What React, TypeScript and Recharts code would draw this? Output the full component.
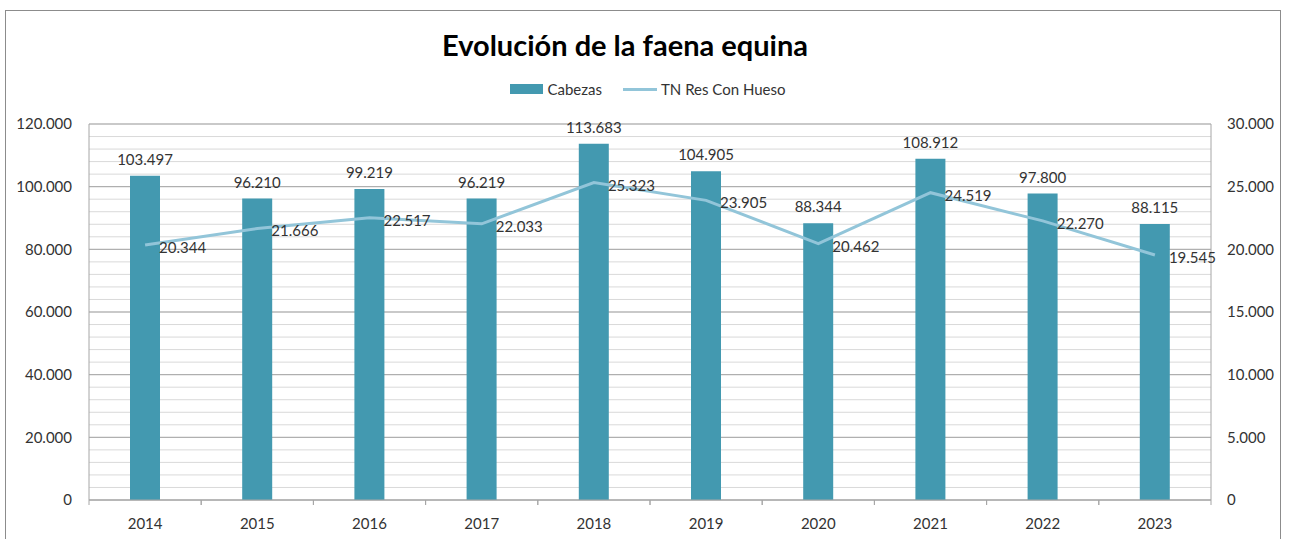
import React from "react";
import {
  ComposedChart,
  Bar,
  Line,
  XAxis,
  YAxis,
  CartesianGrid,
  LabelList,
} from "recharts";

const years = ["2014", "2015", "2016", "2017", "2018", "2019", "2020", "2021", "2022", "2023"];
const cabezas = [103497, 96210, 99219, 96219, 113683, 104905, 88344, 108912, 97800, 88115];
const tnResConHueso = [20344, 21666, 22517, 22033, 25323, 23905, 20462, 24519, 22270, 19545];
const leftTicks = [0, 20000, 40000, 60000, 80000, 100000, 120000];
const rightTicks = [0, 5000, 10000, 15000, 20000, 25000, 30000];

const data = years.map((year, i) => ({
  year,
  cabezas: cabezas[i],
  tn: tnResConHueso[i],
}));

const W = 1289;
const H = 539;
const BAR = "#4399B0";
const LINE = "#92C5D9";
const TEXT = "#333333";
const FONT = "Lato, 'Open Sans', sans-serif";
const HALF_BAND = 1122 / years.length / 2;

const fmt = (n: number) => String(n).replace(/\B(?=(\d{3})+(?!\d))/g, ".");

function YearTick({ x, y, payload }: any) {
  return (
    <g>
      <line x1={x - HALF_BAND} x2={x - HALF_BAND} y1={y} y2={y + 5} stroke="#A6A6A6" />
      <line x1={x + HALF_BAND} x2={x + HALF_BAND} y1={y} y2={y + 5} stroke="#A6A6A6" />
      <text x={x} y={y + 23} textAnchor="middle" dominantBaseline="central" fill={TEXT} fontSize={15} fontFamily={FONT}>
        {payload.value}
      </text>
    </g>
  );
}

function LineLabel({ x, y, value }: any) {
  return (
    <text x={x + 14} y={y + 2} textAnchor="start" dominantBaseline="central" fill={TEXT} fontSize={15} fontFamily={FONT}>
      {fmt(value)}
    </text>
  );
}

export default function App() {
  return (
    <div style={{ position: "absolute", left: 0, top: 0, width: W, height: H, background: "#fff", overflow: "hidden", fontFamily: FONT }}>
      <div style={{ position: "absolute", left: 5, top: 10, width: 1274, height: 560, border: "1px solid #8C8C8C" }} />
      <div style={{ position: "absolute", left: 0, top: 27, width: 1250, textAlign: "center", fontSize: 29, fontWeight: 700, color: "#000" }}>
        Evolución de la faena equina
      </div>
      <div style={{ position: "absolute", left: 0, top: 80, width: W + 7, display: "flex", justifyContent: "center", alignItems: "center", fontSize: 15, color: TEXT }}>
        <span style={{ display: "inline-block", width: 33, height: 10, background: BAR, marginRight: 4 }} />
        <span>Cabezas</span>
        <span style={{ display: "inline-block", width: 34, height: 3, background: LINE, marginLeft: 21, marginRight: 4 }} />
        <span>TN Res Con Hueso</span>
      </div>
      <div style={{ position: "absolute", left: 0, top: 0 }}>
        <ComposedChart width={W} height={H} data={data} margin={{ top: 124, right: 8, bottom: 9, left: 9 }}>
          <CartesianGrid
            vertical={false}
            stroke="#D9D9D9"
            horizontalCoordinatesGenerator={({ offset }: any) =>
              Array.from({ length: 31 }, (_, i) => offset.top + (offset.height * i) / 30)
            }
          />
          <CartesianGrid vertical={false} stroke="#A6A6A6" yAxisId="left" />
          <XAxis
            dataKey="year"
            height={30}
            axisLine={{ stroke: "#A6A6A6" }}
            tickLine={false}
            tickSize={0}
            tickMargin={0}
            tick={<YearTick />}
            interval={0}
          />
          <YAxis
            yAxisId="left"
            width={80}
            domain={[0, 120000]}
            ticks={leftTicks}
            tickFormatter={fmt}
            axisLine={{ stroke: "#A6A6A6" }}
            tickLine={false}
            tickMargin={11}
            tick={{ fill: TEXT, fontSize: 15, fontFamily: FONT }}
          />
          <YAxis
            yAxisId="right"
            orientation="right"
            width={70}
            domain={[0, 30000]}
            ticks={rightTicks}
            tickFormatter={fmt}
            axisLine={{ stroke: "#A6A6A6" }}
            tickLine={false}
            tickMargin={10}
            tick={{ fill: TEXT, fontSize: 15, fontFamily: FONT, textAnchor: "start" }}
          />
          <Bar yAxisId="left" dataKey="cabezas" fill={BAR} barSize={30} isAnimationActive={false}>
            <LabelList dataKey="cabezas" position="top" offset={11} formatter={fmt} fill={TEXT} fontSize={15} fontFamily={FONT} />
          </Bar>
          <Line yAxisId="right" dataKey="tn" stroke={LINE} strokeWidth={3} dot={false} isAnimationActive={false}>
            <LabelList dataKey="tn" content={<LineLabel />} />
          </Line>
        </ComposedChart>
      </div>
    </div>
  );
}
